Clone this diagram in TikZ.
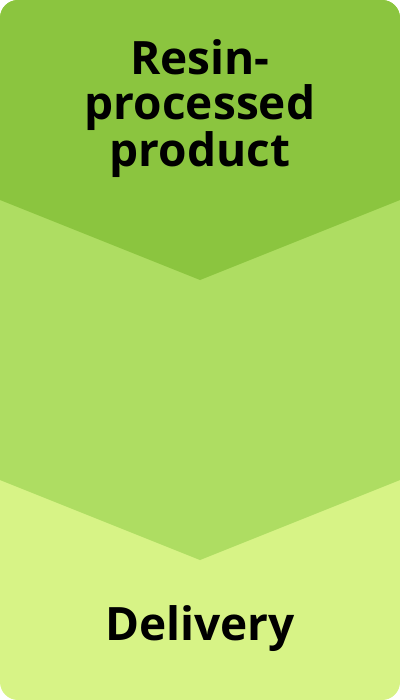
\documentclass[tikz,border=0pt]{standalone}
\usepackage{fontspec}
\setmainfont{Open Sans}[UprightFont=* Bold]
\definecolor{topg}{HTML}{8BC53F}
\definecolor{midg}{HTML}{AEDD62}
\definecolor{botg}{HTML}{D7F386}
\begin{document}
\begin{tikzpicture}[x=1pt,y=-1pt,
  lbl/.style={align=center,text=black,inner sep=0pt}]
\useasboundingbox (0,0) rectangle (400,700);
\begin{scope}
\clip[rounded corners=18pt] (0,0) rectangle (400,700);
\fill[botg] (0,0) rectangle (400,700);
\fill[midg] (0,0) -- (400,0) -- (400,480) -- (200,560) -- (0,480) -- cycle;
\fill[topg] (0,0) -- (400,0) -- (400,200) -- (200,280) -- (0,200) -- cycle;
\end{scope}
\node[lbl,font=\fontsize{46}{45}\selectfont,anchor=base] (top) at (200,167) {Resin-\\processed\\product};
\node[lbl,font=\fontsize{46}{45}\selectfont,anchor=base] (bot) at (200,640) {Delivery};
\end{tikzpicture}
\end{document}
